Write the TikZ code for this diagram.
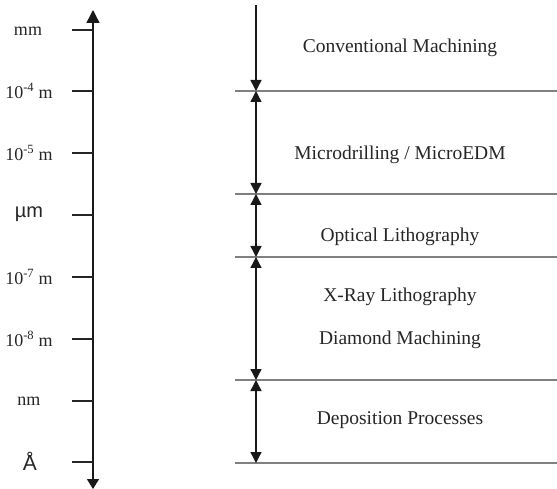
\documentclass[tikz,border=0pt]{standalone}
\usepackage{fontspec}
\setmainfont{Liberation Serif}
\newfontfamily\sansf{Liberation Sans}
\usetikzlibrary{arrows.meta}
\begin{document}
\begin{tikzpicture}[x=1pt,y=-1pt,
  lbl/.style={font=\fontsize{18}{20}\selectfont, text=black!85, inner sep=0pt, anchor=center},
  proc/.style={font=\fontsize{19.5}{22}\selectfont, text=black!85, inner sep=0pt, anchor=center},
  axisline/.style={line width=1.4pt, black!90},
  tickline/.style={line width=1.4pt, black!85},
  sepline/.style={line width=1.4pt, black!50},
  dimarrow/.style={line width=1.4pt, black!90, {Triangle[length=11pt,width=11pt]}-{Triangle[length=11pt,width=11pt]}},
  downarrow/.style={line width=1.4pt, black!90, -{Triangle[length=11pt,width=11pt]}}
]
\useasboundingbox (0,0) rectangle (557,489);
% main axis
\coordinate (atop) at (93,10);
\coordinate (abot) at (93,489);
\draw[axisline, {Triangle[length=13pt,width=13pt]}-{Triangle[length=10pt,width=12pt]}] (atop) -- (abot);
% ticks and labels
\foreach \n/\y in {t1/30,t2/91,t3/153,t4/215,t5/277,t6/339,t7/401,t8/462}{
  \coordinate (\n a) at (72,\y);
  \coordinate (\n b) at (93,\y);
  \draw[tickline] (\n a) -- (\n b);
}
\node[lbl] (l1) at (28,31) {mm};
\node[lbl] (l2) at (29,91) {10\textsuperscript{-4} m};
\node[lbl] (l3) at (29,153) {10\textsuperscript{-5} m};
\node[lbl] (l4) at (29,214) {\sansf\fontsize{20}{22}\selectfont µm};
\node[lbl] (l5) at (29,277) {10\textsuperscript{-7} m};
\node[lbl] (l6) at (29,339) {10\textsuperscript{-8} m};
\node[lbl] (l7) at (29,401) {nm};
\node[lbl] (l8) at (30,461) {\sansf\fontsize{21}{23}\selectfont Å};
% right boundaries
\coordinate (b0) at (256,5);
\foreach \n/\y in {b1/91,b2/194,b3/257,b4/380,b5/463}{
  \coordinate (\n) at (256,\y);
  \coordinate (\n l) at (235,\y);
  \coordinate (\n r) at (557,\y);
  \draw[sepline] (\n l) -- (\n r);
}
\draw[downarrow] (b0) -- (b1);
\draw[dimarrow] (b1) -- (b2);
\draw[dimarrow] (b2) -- (b3);
\draw[dimarrow] (b3) -- (b4);
\draw[dimarrow] (b4) -- (b5);
% process labels
\node[proc] (p1) at (400,48) {Conventional Machining};
\node[proc] (p2) at (400,155) {Microdrilling / MicroEDM};
\node[proc] (p3) at (400,237) {Optical Lithography};
\node[proc] (p4) at (400,297) {X-Ray Lithography};
\node[proc] (p5) at (400,340) {Diamond Machining};
\node[proc] (p6) at (400,420) {Deposition Processes};
\end{tikzpicture}
\end{document}
